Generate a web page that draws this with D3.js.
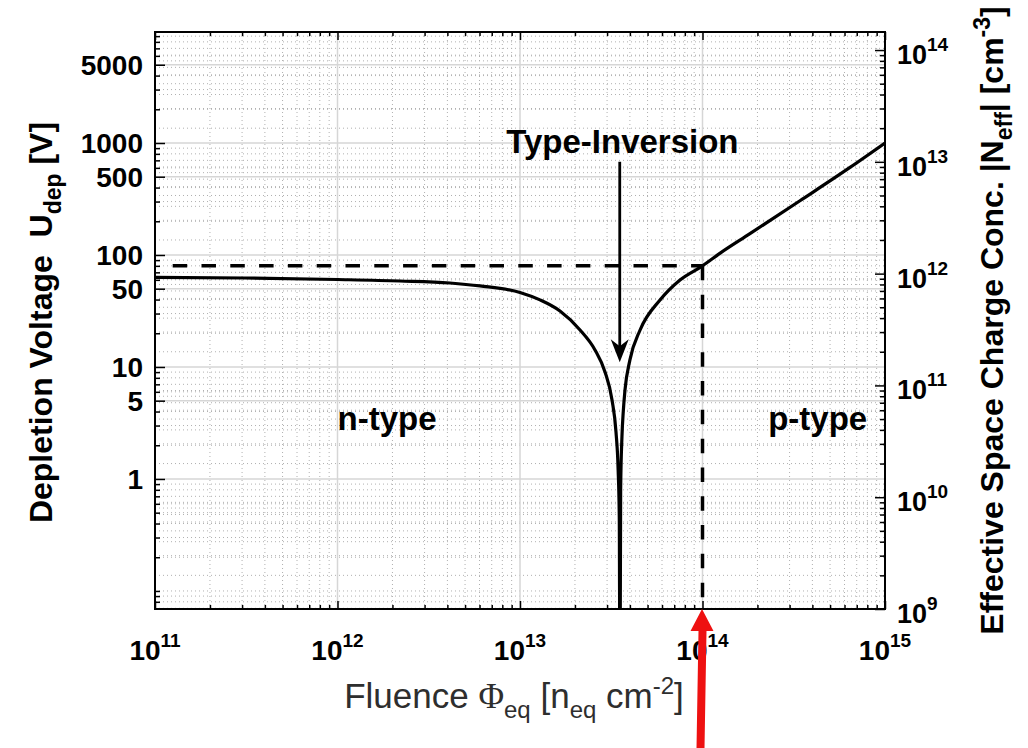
<!DOCTYPE html>
<html>
<head>
<meta charset="utf-8">
<script src="https://cdn.jsdelivr.net/npm/d3@7"></script>
<style>
body { margin: 0; background: #fff; }
text { font-family: "Liberation Sans", Arial, Helvetica, sans-serif; }
</style>
</head>
<body>
<div id="chart"></div>
<script>

// curve: fluence [n_eq cm^-2] vs depletion voltage [V]
var fluence = [1e11, 3.11e11, 1e12, 2.2e12, 4.13e12, 6.04e12, 1e13, 1.287e13, 1.656e13, 2.133e13,
               2.576e13, 2.923e13, 3.193e13, 3.357e13, 3.45e13, 3.5e13, 3.53e13, 3.56e13, 3.62e13,
               3.68e13, 3.76e13, 4.0e13, 4.55e13, 5.85e13, 7.53e13, 1e14, 1.25e14, 1.82e14,
               3.42e14, 6.43e14, 1e15];
var voltage = [63, 62.3, 60.4, 58.6, 56.2, 52.9, 46.3, 39.7, 31.6, 21.4,
               14.2, 9.03, 5.08, 2.63, 1.2, 0.45, 0.01, 0.8, 2.4,
               4.0, 6.2, 11.5, 21.4, 39.6, 59.8, 80, 104, 155,
               305, 605, 1000];

var xTickExp = [11, 12, 13, 14, 15];
var leftTicks = [1, 5, 10, 50, 100, 500, 1000, 5000];
var rightTickExp = [9, 10, 11, 12, 13, 14];

var xDomain = [1e11, 1e15];
var leftDomain = [0.069, 9800];
var rightDomain = [1e9, 1.45e14];

// dashed guide at 1e14 / 80 V
var guideFluence = [1.25e11, 1e14];
var guideVoltage = 80;

// type inversion arrow
var inversionFluence = 3.52e13;
var arrowVoltage = [680, 11];

var notes = ["Type-Inversion", "n-type", "p-type"];
var noteFluence = [3.64e13, 1e12, 2.29e14];
var noteVoltage = [813, 2.75, 2.75];
var noteAnchor = ["middle", "start", "start"];

function init(){

	var w = 1028;
	var h = 748;
	var left = 155, right = 885, top = 32, bottom = 609;

	var xScale = d3.scaleLog().domain(xDomain).range([left, right]);
	var yLeft = d3.scaleLog().domain(leftDomain).range([bottom, top]);
	var yRight = d3.scaleLog().domain(rightDomain).range([bottom, top]);

	var svg = d3.select("#chart")
				.append("svg")
				.attr("width", w)
				.attr("height", h)
				.style("background", "#fff");

	svg.append("defs").append("clipPath").attr("id", "plot")
		.append("rect")
		.attr("x", left).attr("y", top)
		.attr("width", right - left).attr("height", bottom - top);

	var isPow10 = function(v){ return Math.abs(Math.log10(v) - Math.round(Math.log10(v))) < 1e-9; };

	var xMinor = xScale.ticks().filter(function(v){ return !isPow10(v); });
	var xMajorInner = xTickExp.slice(1, -1).map(function(e){ return Math.pow(10, e); });
	var leftMinor = yLeft.ticks().filter(function(v){
		return leftTicks.every(function(t){ return Math.abs(t - v) / t > 1e-6; });
	});
	var rightMajor = rightTickExp.map(function(e){ return Math.pow(10, e); });
	var rightMinor = yRight.ticks().filter(function(v){ return !isPow10(v); });

	// grid
	var grid = svg.append("g");
	var dotted = { stroke: "#b0b0b0", width: 1, dash: "1,3" };

	grid.selectAll(".xminor").data(xMinor).enter().append("line")
		.attr("x1", function(d){ return xScale(d); }).attr("x2", function(d){ return xScale(d); })
		.attr("y1", top).attr("y2", bottom)
		.attr("stroke", dotted.stroke).attr("stroke-width", dotted.width).attr("stroke-dasharray", dotted.dash);

	grid.selectAll(".lminor").data(leftMinor).enter().append("line")
		.attr("x1", left).attr("x2", right)
		.attr("y1", function(d){ return yLeft(d); }).attr("y2", function(d){ return yLeft(d); })
		.attr("stroke", dotted.stroke).attr("stroke-width", dotted.width).attr("stroke-dasharray", dotted.dash);

	grid.selectAll(".rminor").data(rightMinor).enter().append("line")
		.attr("x1", left).attr("x2", right)
		.attr("y1", function(d){ return yRight(d); }).attr("y2", function(d){ return yRight(d); })
		.attr("stroke", dotted.stroke).attr("stroke-width", dotted.width).attr("stroke-dasharray", dotted.dash);

	grid.selectAll(".xmajor").data(xMajorInner).enter().append("line")
		.attr("x1", function(d){ return xScale(d); }).attr("x2", function(d){ return xScale(d); })
		.attr("y1", top).attr("y2", bottom)
		.attr("stroke", "#d6d6d6").attr("stroke-width", 1.5);

	grid.selectAll(".lmajor").data(leftTicks).enter().append("line")
		.attr("x1", left).attr("x2", right)
		.attr("y1", function(d){ return yLeft(d); }).attr("y2", function(d){ return yLeft(d); })
		.attr("stroke", "#d6d6d6").attr("stroke-width", 1.5);

	// tick marks (inward) via d3 axes
	var tickAxis = function(axis, tx, ty){
		var g = svg.append("g")
			.attr("transform", "translate(" + tx + "," + ty + ")")
			.call(axis);
		g.select(".domain").remove();
		g.selectAll("text").remove();
		g.selectAll("line").attr("stroke", "#000").attr("stroke-width", 1.5);
		return g;
	};

	var xMajor = xTickExp.map(function(e){ return Math.pow(10, e); });
	tickAxis(d3.axisBottom(xScale).tickValues(xMajor).tickSizeInner(-8).tickSizeOuter(0), 0, bottom);
	tickAxis(d3.axisBottom(xScale).tickValues(xMinor).tickSizeInner(-4).tickSizeOuter(0), 0, bottom);
	tickAxis(d3.axisTop(xScale).tickValues(xMajor).tickSizeInner(-8).tickSizeOuter(0), 0, top);
	tickAxis(d3.axisTop(xScale).tickValues(xMinor).tickSizeInner(-4).tickSizeOuter(0), 0, top);
	tickAxis(d3.axisLeft(yLeft).tickValues(leftTicks).tickSizeInner(-10).tickSizeOuter(0), left, 0);
	tickAxis(d3.axisLeft(yLeft).tickValues(leftMinor).tickSizeInner(-5).tickSizeOuter(0), left, 0);
	tickAxis(d3.axisRight(yRight).tickValues(rightMajor).tickSizeInner(-10).tickSizeOuter(0), right, 0);
	tickAxis(d3.axisRight(yRight).tickValues(rightMinor).tickSizeInner(-5).tickSizeOuter(0), right, 0);

	// tick labels
	svg.selectAll(".llab").data(leftTicks).enter().append("text")
		.attr("x", left - 12)
		.attr("y", function(d){ return yLeft(d); })
		.attr("dy", "0.36em")
		.attr("text-anchor", "end")
		.attr("font-size", 28).attr("font-weight", "bold")
		.text(function(d){ return d; });

	var powLabel = function(sel){
		sel.append("tspan").text("10");
		sel.append("tspan").attr("dy", -13).attr("font-size", 19).text(function(d){ return d; });
	};

	svg.selectAll(".xlab").data(xTickExp).enter().append("text")
		.attr("x", function(d){ return xScale(Math.pow(10, d)); })
		.attr("y", bottom + 51)
		.attr("text-anchor", "middle")
		.attr("font-size", 28).attr("font-weight", "bold")
		.call(powLabel);

	svg.selectAll(".rlab").data(rightTickExp).enter().append("text")
		.attr("x", right + 12)
		.attr("y", function(d){ return yRight(Math.pow(10, d)) + 14; })
		.attr("text-anchor", "start")
		.attr("font-size", 27).attr("font-weight", "bold")
		.call(powLabel);

	// box
	svg.append("rect")
		.attr("x", left).attr("y", top)
		.attr("width", right - left).attr("height", bottom - top)
		.attr("fill", "none").attr("stroke", "#000").attr("stroke-width", 2);

	// dashed guides
	var plot = svg.append("g").attr("clip-path", "url(#plot)");
	plot.append("line")
		.attr("x1", xScale(guideFluence[0])).attr("x2", xScale(guideFluence[1]))
		.attr("y1", yLeft(guideVoltage)).attr("y2", yLeft(guideVoltage))
		.attr("stroke", "#000").attr("stroke-width", 3.5).attr("stroke-dasharray", "14.5,14.3");
	plot.append("line")
		.attr("x1", xScale(guideFluence[1])).attr("x2", xScale(guideFluence[1]))
		.attr("y1", yLeft(guideVoltage)).attr("y2", yLeft(leftDomain[0]))
		.attr("stroke", "#000").attr("stroke-width", 3.5).attr("stroke-dasharray", "14.5,14.3");

	// curve
	var pts = fluence.map(function(f, i){ return [f, voltage[i]]; });
	var line = d3.line()
		.x(function(d){ return xScale(d[0]); })
		.y(function(d){ return yLeft(d[1]); })
		.curve(d3.curveMonotoneX);
	plot.append("path")
		.datum(pts)
		.attr("d", line)
		.attr("fill", "none").attr("stroke", "#000").attr("stroke-width", 3.2)
		.attr("stroke-linejoin", "round");

	// type inversion arrow
	var ax = xScale(inversionFluence);
	var ay0 = yLeft(arrowVoltage[0]), ay1 = yLeft(arrowVoltage[1]);
	svg.append("line")
		.attr("x1", ax).attr("x2", ax).attr("y1", ay0).attr("y2", ay1 - 14)
		.attr("stroke", "#000").attr("stroke-width", 2.8);
	svg.append("path")
		.attr("d", "M" + ax + "," + ay1 + "L" + (ax - 9) + "," + (ay1 - 23) +
			"L" + ax + "," + (ay1 - 16) + "L" + (ax + 9) + "," + (ay1 - 23) + "Z")
		.attr("fill", "#000");

	// annotations
	svg.selectAll(".note").data(notes).enter().append("text")
		.attr("x", function(d, i){ return xScale(noteFluence[i]); })
		.attr("y", function(d, i){ return yLeft(noteVoltage[i]); })
		.attr("text-anchor", function(d, i){ return noteAnchor[i]; })
		.attr("font-size", 33).attr("font-weight", "bold")
		.text(function(d){ return d; });

	// axis titles
	var yt = svg.append("text")
		.attr("transform", "translate(52," + ((top + bottom) / 2 + 2) + ") rotate(-90)")
		.attr("text-anchor", "middle")
		.attr("font-size", 32).attr("font-weight", "bold")
		.style("white-space", "pre");
	yt.append("tspan").text("Depletion Voltage  U");
	yt.append("tspan").attr("dy", 9).attr("font-size", 23).text("dep");
	yt.append("tspan").attr("dy", -9).text(" [V]");

	var rt = svg.append("text")
		.attr("transform", "translate(1003," + ((top + bottom) / 2) + ") rotate(-90)")
		.attr("text-anchor", "middle")
		.attr("font-size", 32).attr("font-weight", "bold");
	rt.append("tspan").text("Effective Space Charge Conc. |N");
	rt.append("tspan").attr("dy", 9).attr("font-size", 23).text("eff");
	rt.append("tspan").attr("dy", -9).text("| [cm");
	rt.append("tspan").attr("dy", -13).attr("font-size", 23).text("-3");
	rt.append("tspan").attr("dy", 13).text("]");

	var xt = svg.append("text")
		.attr("x", (left + right) / 2 - 6)
		.attr("y", 708)
		.attr("text-anchor", "middle")
		.attr("font-size", 35).attr("fill", "#2e2e2e");
	xt.append("tspan").text("Fluence ");
	xt.append("tspan").attr("font-family", "'Liberation Serif', serif").text("\u03A6");
	xt.append("tspan").attr("dy", 10).attr("font-size", 24).text("eq");
	xt.append("tspan").attr("dy", -10).text(" [n");
	xt.append("tspan").attr("dy", 10).attr("font-size", 24).text("eq");
	xt.append("tspan").attr("dy", -10).text(" cm");
	xt.append("tspan").attr("dy", -14).attr("font-size", 24).text("-2");
	xt.append("tspan").attr("dy", 14).text("]");

	// red pointer at 1e14
	var rx = xScale(guideFluence[1]);
	svg.append("path")
		.attr("d", "M" + (rx - 6) + "," + h + "L" + (rx - 4) + "," + (bottom + 22) +
			"L" + (rx - 12) + "," + (bottom + 22) + "L" + (rx - 0.5) + "," + bottom +
			"L" + (rx + 11) + "," + (bottom + 22) + "L" + (rx + 4) + "," + (bottom + 22) +
			"L" + (rx + 2) + "," + h + "Z")
		.attr("fill", "#ee1111");
}

window.onload = init;
</script>
</body>
</html>
